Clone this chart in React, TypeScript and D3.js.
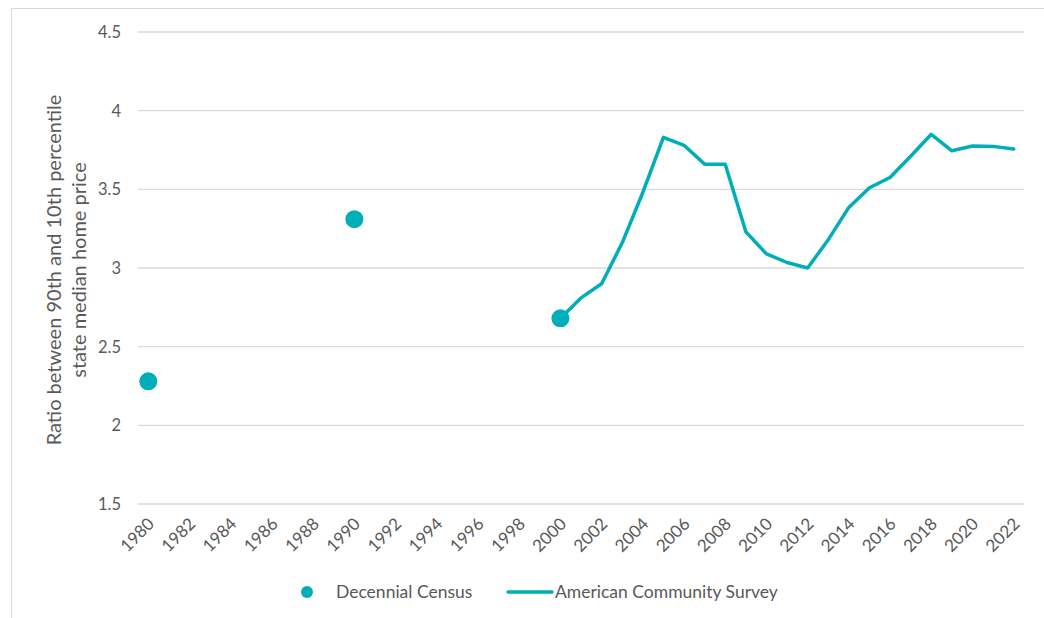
import React, { useRef, useEffect } from "react";
import * as d3 from "d3";

// x categories (every year), labels shown every 2 years
const years: number[] = d3.range(1980, 2023);
const yTicks = [1.5, 2, 2.5, 3, 3.5, 4, 4.5];

// Decennial Census points
const censusYears = [1980, 1990, 2000];
const censusValues = [2.28, 3.31, 2.68];

// American Community Survey line
const acsYears = d3.range(2000, 2023);
const acsValues = [
  2.68, 2.81, 2.9, 3.16, 3.48, 3.83, 3.78, 3.66, 3.66, 3.23, 3.09, 3.035,
  3.0, 3.18, 3.385, 3.51, 3.575, 3.71, 3.85, 3.745, 3.775, 3.773, 3.756,
];

const W = 1044;
const H = 618;
const TEAL = "#00AEB9";
const TXT = "#595959";
const FONT = "Lato, 'Open Sans', sans-serif";

const App = () => {
  const svgRef = useRef<SVGSVGElement>(null);

  useEffect(() => {
    const svg = d3.select(svgRef.current);
    svg.selectAll("*").remove();

    const left = 138;
    const right = 1024;
    const top = 32;
    const bottom = 504;

    const x = d3
      .scaleBand<number>()
      .domain(years)
      .range([left, right])
      .padding(0);
    const cx = (yr: number) => (x(yr) as number) + x.bandwidth() / 2;
    const y = d3.scaleLinear().domain([1.5, 4.5]).range([bottom, top]);

    // outer frame (only top and left visible in the crop)
    svg
      .append("rect")
      .attr("x", 11.5)
      .attr("y", 8.5)
      .attr("width", W + 20)
      .attr("height", H + 20)
      .attr("fill", "none")
      .attr("stroke", "#d9d9d9");

    // gridlines
    svg
      .append("g")
      .selectAll("line")
      .data(yTicks)
      .enter()
      .append("line")
      .attr("x1", left)
      .attr("x2", right)
      .attr("y1", (d) => y(d))
      .attr("y2", (d) => y(d))
      .attr("stroke", "#d9d9d9")
      .attr("stroke-width", 1.3);

    // y axis labels
    svg
      .append("g")
      .selectAll("text")
      .data(yTicks)
      .enter()
      .append("text")
      .attr("x", 121)
      .attr("y", (d) => y(d) + 6)
      .attr("text-anchor", "end")
      .attr("font-size", 16.5)
      .attr("font-family", FONT)
      .attr("fill", TXT)
      .text((d) => String(d));

    // x axis labels, rotated
    svg
      .append("g")
      .selectAll("text")
      .data(years.filter((d) => d % 2 === 0))
      .enter()
      .append("text")
      .attr(
        "transform",
        (d) => `translate(${cx(d) + 7}, ${bottom + 21}) rotate(-45)`
      )
      .attr("text-anchor", "end")
      .attr("font-size", 17)
      .attr("font-family", FONT)
      .attr("fill", TXT)
      .text((d) => String(d));

    // y axis title
    const title = svg
      .append("text")
      .attr("transform", `translate(61, 270) rotate(-90)`)
      .attr("text-anchor", "middle")
      .attr("font-size", 20)
      .attr("font-family", FONT)
      .attr("fill", TXT);
    title
      .append("tspan")
      .attr("x", 0)
      .attr("dy", 0)
      .text("Ratio between 90th and 10th percentile");
    title
      .append("tspan")
      .attr("x", 0)
      .attr("dy", 25)
      .text("state median home price");

    // ACS line
    const line = d3
      .line<number>()
      .x((_, i) => cx(acsYears[i]))
      .y((d) => y(d));
    svg
      .append("path")
      .datum(acsValues)
      .attr("fill", "none")
      .attr("stroke", TEAL)
      .attr("stroke-width", 3.5)
      .attr("stroke-linejoin", "round")
      .attr("stroke-linecap", "round")
      .attr("d", line);

    // census points
    svg
      .append("g")
      .selectAll("circle")
      .data(censusValues)
      .enter()
      .append("circle")
      .attr("cx", (_, i) => cx(censusYears[i]))
      .attr("cy", (d) => y(d))
      .attr("r", 9)
      .attr("fill", TEAL);

    // legend
    const lg = svg.append("g").attr("transform", "translate(0, 592)");
    lg.append("circle").attr("cx", 307).attr("cy", 0).attr("r", 6).attr("fill", TEAL);
    lg.append("text")
      .attr("x", 336)
      .attr("y", 6)
      .attr("font-size", 17.5)
      .attr("font-family", FONT)
      .attr("fill", TXT)
      .text("Decennial Census");
    lg.append("line")
      .attr("x1", 508)
      .attr("x2", 552)
      .attr("y1", 0)
      .attr("y2", 0)
      .attr("stroke", TEAL)
      .attr("stroke-width", 3.5)
      .attr("stroke-linecap", "round");
    lg.append("text")
      .attr("x", 555)
      .attr("y", 6)
      .attr("font-size", 17.5)
      .attr("font-family", FONT)
      .attr("fill", TXT)
      .text("American Community Survey");
  }, []);

  return (
    <svg
      ref={svgRef}
      width={W}
      height={H}
      style={{ position: "absolute", left: 0, top: 0, background: "#fff" }}
    />
  );
};

export default App;
